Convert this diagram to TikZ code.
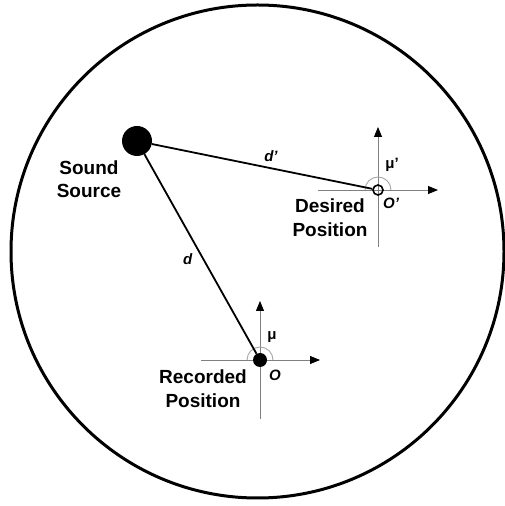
\documentclass[tikz,border=0pt]{standalone}
\usepackage{fontspec}
\setmainfont{Liberation Sans}
\usetikzlibrary{arrows.meta}

\tikzset{
  link/.style={line width=1.8pt},
  axis/.style={gray, line width=0.9pt, -{Triangle[black,length=10pt,width=8pt]}},
  angarc/.style={gray!70, line width=0.9pt},
  lbl/.style={font=\fontsize{19}{23.5}\selectfont\bfseries, align=center},
  sym/.style={font=\fontsize{15}{17}\selectfont\bfseries, inner sep=1pt},
}

\begin{document}
\begin{tikzpicture}[x=1pt, y=1pt]
                        \useasboundingbox (0, 0) rectangle (504, 506);
                        % Room boundary:
                        \draw[line width=3pt] (257.5, 254.5) circle[radius=246.5];
                        % Axes at the recorded position:
                        \coordinate (recL) at (201, 146);
                        \coordinate (recR) at (320, 146);
                        \coordinate (recU) at (260, 205);
                        \coordinate (recD) at (260, 87);
                        \draw[axis] (recL) -- (recR);
                        \draw[axis] (recD) -- (recU);
                        % Axes at the desired position:
                        \coordinate (desL) at (318, 316);
                        \coordinate (desR) at (438, 316);
                        \coordinate (desU) at (378, 379);
                        \coordinate (desD) at (378, 259);
                        \draw[axis] (desL) -- (desR);
                        \draw[axis] (desD) -- (desU);
                        % Source and listening positions:
                        \node[circle, fill=black, inner sep=0pt, minimum size=30pt](src) at (137, 365){};
                        \node[circle, fill=black, inner sep=0pt, minimum size=14pt](rec) at (260, 146){};
                        \node[circle, draw, line width=1.6pt, inner sep=0pt, minimum size=10pt](des) at (378, 316){};
                        \draw[angarc] (rec.center) ++(13, 0) arc[start angle=0, end angle=180, radius=13];
                        \draw[angarc] (des.center) ++(13, 0) arc[start angle=0, end angle=180, radius=13];
                        % Distances:
                        \draw[link] (src) -- (rec) node[sym, pos=0.525, left=9pt]{\itshape d};
                        \draw[link] (src) -- (des) node[sym, pos=0.54, above=5pt]{\itshape d’};
                        % Labels:
                        \node[sym](mu) at (272, 169){μ};
                        \node[sym](o) at (275, 131){\itshape O};
                        \node[sym](mup) at (392, 341){μ’};
                        \node[sym](op) at (391, 303){\itshape O’};
                        \node[lbl](srclbl) at (89, 327){Sound\\Source};
                        \node[lbl](reclbl) at (203, 117.5){Recorded\\Position};
                        \node[lbl](deslbl) at (330, 288.5){Desired\\Position};
                    \end{tikzpicture}
\end{document}
